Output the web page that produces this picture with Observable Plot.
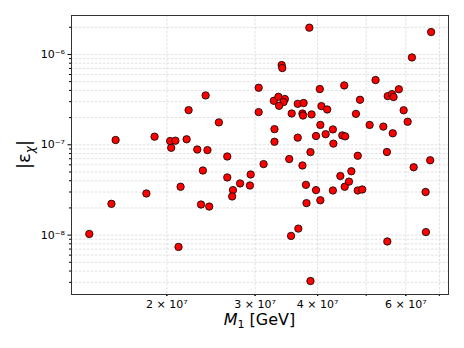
<!DOCTYPE html>
<html><head><meta charset="utf-8">
<script src="https://cdn.jsdelivr.net/npm/d3@7"></script>
<script src="https://cdn.jsdelivr.net/npm/@observablehq/plot@0.6"></script>
<style>body{margin:0;background:#fff} svg{font-family:"DejaVu Sans",sans-serif}</style>
</head><body><div id="chart"></div>
<script>
// M_1 [GeV]
const massM1 = [
  1.40e7, 1.55e7, 1.82e7, 2.11e7, 2.13e7, 1.58e7, 1.89e7, 2.03e7, 2.04e7, 2.08e7,
  2.19e7, 2.21e7, 2.30e7, 2.39e7, 2.41e7, 2.54e7, 2.64e7, 2.36e7, 2.64e7, 2.34e7,
  2.43e7, 2.71e7, 2.70e7, 2.80e7, 2.93e7, 2.94e7, 3.12e7, 3.05e7, 3.05e7, 3.28e7,
  3.28e7, 3.27e7, 3.34e7, 3.44e7, 3.42e7, 3.35e7, 3.39e7, 3.40e7, 3.85e7, 3.51e7,
  3.54e7, 3.66e7, 3.55e7, 3.65e7, 3.75e7, 3.73e7, 3.74e7, 3.65e7, 3.73e7, 3.79e7,
  3.80e7, 3.87e7, 3.87e7, 3.89e7, 3.97e7, 3.97e7, 4.04e7, 4.07e7, 4.05e7, 4.05e7,
  4.15e7, 4.18e7, 4.29e7, 4.30e7, 4.29e7, 4.44e7, 4.48e7, 4.54e7, 4.52e7, 4.53e7,
  4.62e7, 4.67e7, 4.77e7, 4.81e7, 4.81e7, 4.91e7, 4.86e7, 5.08e7, 5.22e7, 5.41e7,
  5.50e7, 5.51e7, 5.52e7, 5.63e7, 5.67e7, 5.65e7, 5.81e7, 5.94e7, 6.05e7, 6.17e7,
  6.22e7, 6.57e7, 6.58e7, 6.71e7, 6.74e7
];
// |epsilon_chi|
const epsChi = [
  1.03e-8, 2.22e-8, 2.89e-8, 7.4e-9, 3.43e-8, 1.13e-7, 1.23e-7, 1.10e-7, 9.26e-8, 1.11e-7,
  1.15e-7, 2.42e-7, 8.87e-8, 3.52e-7, 8.73e-8, 1.77e-7, 7.42e-8, 5.19e-8, 4.35e-8, 2.18e-8,
  2.07e-8, 3.15e-8, 2.68e-8, 3.73e-8, 3.54e-8, 4.69e-8, 6.11e-8, 4.28e-7, 2.30e-7, 1.49e-7,
  1.08e-7, 3.07e-7, 3.40e-7, 3.21e-7, 2.97e-7, 2.70e-7, 7.63e-7, 7.07e-7, 1.98e-6, 6.95e-8,
  9.8e-9, 1.18e-8, 2.22e-7, 2.84e-7, 2.90e-7, 2.22e-7, 2.11e-7, 1.20e-7, 5.90e-8, 3.60e-8,
  2.26e-8, 8.30e-8, 3.1e-9, 2.17e-7, 1.25e-7, 3.15e-8, 4.14e-7, 2.68e-7, 1.66e-7, 2.43e-8,
  1.31e-7, 2.46e-7, 1.48e-7, 1.03e-7, 3.12e-8, 4.51e-8, 1.27e-7, 1.24e-7, 4.54e-7, 3.43e-8,
  3.91e-8, 5.09e-8, 2.20e-7, 7.56e-8, 3.12e-8, 3.20e-8, 3.15e-7, 1.66e-7, 5.21e-7, 1.59e-7,
  8.32e-8, 8.5e-9, 3.46e-7, 3.64e-7, 3.38e-7, 1.34e-7, 4.12e-7, 2.41e-7, 1.80e-7, 9.27e-7,
  5.64e-8, 3.00e-8, 1.08e-8, 6.74e-8, 1.77e-6
];
const xLabeledTicks = [2e7, 3e7, 4e7, 6e7];
const xTickLabels = ["2 × 10⁷", "3 × 10⁷", "4 × 10⁷", "6 × 10⁷"];
const xMinorTicks = [2e7, 3e7, 4e7, 5e7, 6e7, 7e7];
const yMajorTicks = [1e-8, 1e-7, 1e-6];
const yTickLabels = ["10⁻⁸", "10⁻⁷", "10⁻⁶"];
const yMinorTicks = [
  3e-9, 4e-9, 5e-9, 6e-9, 7e-9, 8e-9, 9e-9,
  2e-8, 3e-8, 4e-8, 5e-8, 6e-8, 7e-8, 8e-8, 9e-8,
  2e-7, 3e-7, 4e-7, 5e-7, 6e-7, 7e-7, 8e-7, 9e-7,
  2e-6
];
const yGridTicks = yMinorTicks.concat(yMajorTicks);

const data = massM1.map((m, i) => ({m, e: epsChi[i]}));
const gridStyle = {stroke: "#b0b0b0", strokeOpacity: 0.55, strokeWidth: 0.7, strokeDasharray: "2.5,1.5"};

const chart = Plot.plot({
  width: 464, height: 348,
  marginLeft: 71, marginRight: 16, marginTop: 15, marginBottom: 54,
  style: {fontFamily: "DejaVu Sans, sans-serif", fontSize: "11px", color: "#000", background: "#fff"},
  x: {type: "log", domain: [1.29e7, 7.3e7]},
  y: {type: "log", domain: [2.2e-9, 2.7e-6]},
  marks: [
    Plot.gridX(xMinorTicks, gridStyle),
    Plot.gridY(yGridTicks, gridStyle),
    Plot.axisX(xMinorTicks, {tickSize: 2, tickFormat: () => "", label: null}),
    Plot.axisX(xLabeledTicks, {tickSize: 2, tickPadding: 4, label: null,
      tickFormat: d => xTickLabels[xLabeledTicks.indexOf(d)]}),
    Plot.axisY(yMinorTicks, {tickSize: 2, tickFormat: () => "", label: null}),
    Plot.axisY(yMajorTicks, {tickSize: 3.5, tickPadding: 3, label: null,
      tickFormat: d => yTickLabels[yMajorTicks.indexOf(d)]}),
    Plot.dot(data, {x: "m", y: "e", r: 3.7, fill: "#ff0000", stroke: "#000", strokeWidth: 0.8}),
    Plot.frame({stroke: "#333", strokeWidth: 1})
  ]
});

const svg = d3.select(chart);
const xl = svg.append("text")
  .attr("x", 259.5).attr("y", 325)
  .attr("text-anchor", "middle").attr("font-size", 16).attr("fill", "#000");
xl.append("tspan").attr("font-style", "italic").text("M");
xl.append("tspan").attr("font-size", 11).attr("dy", 3).text("1");
xl.append("tspan").attr("dy", -3).text(" [GeV]");

const yl = svg.append("text")
  .attr("transform", "translate(30,154.5) rotate(-90)")
  .attr("text-anchor", "middle").attr("font-size", 18).attr("fill", "#000");
yl.append("tspan").text("|ε");
yl.append("tspan").attr("font-style", "italic").attr("font-size", 12).attr("dy", 4).text("χ");
yl.append("tspan").attr("dy", -4).text("|");

document.getElementById("chart").appendChild(chart);
</script>
</body></html>
